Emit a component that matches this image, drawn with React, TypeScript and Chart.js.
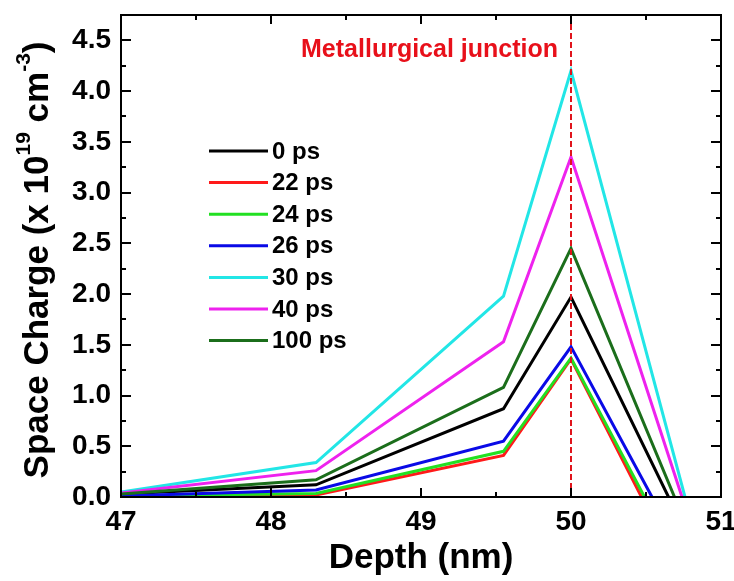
import React, { useEffect, useRef } from 'react';
import { Chart, registerables } from 'chart.js';

Chart.register(...registerables);

const FONT = "'Liberation Sans', Arial, Helvetica, sans-serif";

// ---- data ----
const seriesLabels = ['0 ps', '22 ps', '24 ps', '26 ps', '30 ps', '40 ps', '100 ps'];
const seriesColors = ['#000000', '#ff1a1a', '#22e022', '#0a0ae6', '#22e6e6', '#ee22ee', '#1b6e1b'];
const depthNm = [47, 48.3, 49.55, 50];
// depth where each curve falls back to zero
const zeroDepth = [50.65, 50.47, 50.49, 50.54, 50.76, 50.74, 50.69];
const charge0ps = [0.03, 0.12, 0.87, 1.97];
const charge22ps = [0.01, 0.02, 0.41, 1.36];
const charge24ps = [0.01, 0.035, 0.45, 1.37];
const charge26ps = [0.01, 0.07, 0.55, 1.48];
const charge30ps = [0.05, 0.34, 1.98, 4.2];
const charge40ps = [0.04, 0.26, 1.53, 3.35];
const charge100ps = [0.03, 0.17, 1.08, 2.45];
const seriesValues = [charge0ps, charge22ps, charge24ps, charge26ps, charge30ps, charge40ps, charge100ps];

const xMin = 47;
const xMax = 51;
const yMin = 0;
const yMax = 4.75;
const xTickValues = [47, 48, 49, 50, 51];
const yTickValues = [0, 0.5, 1, 1.5, 2, 2.5, 3, 3.5, 4, 4.5];
const junctionDepth = 50;
const junctionLabel = 'Metallurgical junction';
const xTitle = 'Depth (nm)';

const overlayPlugin = {
  id: 'overlay',
  afterDatasetsDraw(chart: any) {
    const { ctx, chartArea: a, scales } = chart;
    const x = scales.x;
    const y = scales.y;
    ctx.save();

    // junction dashed line
    const jx = x.getPixelForValue(junctionDepth);
    ctx.strokeStyle = '#e0141c';
    ctx.lineWidth = 2;
    ctx.setLineDash([6, 3]);
    ctx.beginPath();
    ctx.moveTo(jx, a.top);
    ctx.lineTo(jx, a.bottom);
    ctx.stroke();
    ctx.setLineDash([]);

    // frame
    ctx.strokeStyle = '#000';
    ctx.lineWidth = 2;
    ctx.strokeRect(a.left, a.top, a.right - a.left, a.bottom - a.top);

    // x ticks (inward, top & bottom)
    for (let i = 0; i <= 8; i++) {
      const v = xMin + i * 0.5;
      const p = Math.round(x.getPixelForValue(v));
      const L = i % 2 === 0 ? 9 : 5;
      ctx.beginPath();
      ctx.moveTo(p, a.bottom);
      ctx.lineTo(p, a.bottom - L);
      ctx.moveTo(p, a.top);
      ctx.lineTo(p, a.top + L);
      ctx.stroke();
    }
    // y ticks (inward, left & right)
    for (let i = 0; i <= 19; i++) {
      const v = yMin + i * 0.25;
      if (v > yMax + 1e-6) break;
      const p = Math.round(y.getPixelForValue(v));
      const L = i % 2 === 0 ? 10 : 5;
      ctx.beginPath();
      ctx.moveTo(a.left, p);
      ctx.lineTo(a.left + L, p);
      ctx.moveTo(a.right, p);
      ctx.lineTo(a.right - L, p);
      ctx.stroke();
    }

    // junction label
    ctx.fillStyle = '#e8101a';
    ctx.font = `bold 25px ${FONT}`;
    ctx.textAlign = 'right';
    ctx.textBaseline = 'middle';
    ctx.fillText(junctionLabel, jx - 13, a.top + 35);

    // legend
    const lx0 = 209;
    const lx1 = 268;
    const ly0 = 151;
    const dy = 31.6;
    ctx.font = `bold 24px ${FONT}`;
    ctx.textAlign = 'left';
    ctx.textBaseline = 'middle';
    seriesLabels.forEach((lab, i) => {
      const yy = ly0 + i * dy;
      ctx.strokeStyle = seriesColors[i];
      ctx.lineWidth = 3;
      ctx.beginPath();
      ctx.moveTo(lx0, yy);
      ctx.lineTo(lx1, yy);
      ctx.stroke();
      ctx.fillStyle = '#000';
      ctx.fillText(lab, lx1 + 4, yy + 1);
    });

    // y axis title with superscripts
    const big = `bold 35px ${FONT}`;
    const small = `bold 21px ${FONT}`;
    const parts: [string, boolean][] = [
      ['Space Charge (x 10', false],
      ['19', true],
      [' cm', false],
      ['-3', true],
      [')', false],
    ];
    let total = 0;
    const widths = parts.map(([t, sup]) => {
      ctx.font = sup ? small : big;
      const w = ctx.measureText(t).width;
      total += w;
      return w;
    });
    ctx.translate(38, (a.top + a.bottom) / 2 + 4);
    ctx.rotate(-Math.PI / 2);
    ctx.fillStyle = '#000';
    ctx.textAlign = 'left';
    ctx.textBaseline = 'middle';
    let cx = -total / 2;
    parts.forEach(([t, sup], i) => {
      ctx.font = sup ? small : big;
      ctx.fillText(t, cx, sup ? -14 : 0);
      cx += widths[i];
    });

    ctx.restore();
  },
};

export default function App() {
  const ref = useRef<HTMLCanvasElement | null>(null);

  useEffect(() => {
    if (!ref.current) return;
    const datasets = seriesLabels.map((lab, i) => ({
      label: lab,
      data: [
        ...depthNm.map((d, k) => ({ x: d, y: seriesValues[i][k] })),
        { x: zeroDepth[i], y: 0 },
      ],
      borderColor: seriesColors[i],
      backgroundColor: seriesColors[i],
      borderWidth: 3,
      pointRadius: 0,
      tension: 0,
      fill: false,
      order: seriesLabels.length - i,
    }));

    const chart = new Chart(ref.current, {
      type: 'line',
      data: { datasets },
      options: {
        responsive: false,
        animation: false,
        maintainAspectRatio: false,
        layout: { padding: { left: 0, top: 15, right: 13, bottom: 0 } },
        plugins: {
          legend: { display: false },
          tooltip: { enabled: false },
        },
        scales: {
          x: {
            type: 'linear',
            min: xMin,
            max: xMax,
            grid: { display: false, drawTicks: false },
            border: { display: false },
            afterBuildTicks: (s: any) => {
              s.ticks = xTickValues.map((v) => ({ value: v }));
            },
            ticks: {
              color: '#000',
              padding: 8,
              maxRotation: 0,
              autoSkip: false,
              font: { family: FONT, size: 28, weight: 'bold' },
              callback: (v: any) => String(v),
            },
            title: {
              display: true,
              text: xTitle,
              color: '#000',
              font: { family: FONT, size: 35, weight: 'bold' },
              padding: { top: 0, bottom: 2 },
            },
            afterFit: (s: any) => {
              s.height = 84;
              s.paddingLeft = 0;
              s.paddingRight = 0;
            },
          },
          y: {
            type: 'linear',
            min: yMin,
            max: yMax,
            grid: { display: false, drawTicks: false },
            border: { display: false },
            afterBuildTicks: (s: any) => {
              s.ticks = yTickValues.map((v) => ({ value: v }));
            },
            ticks: {
              color: '#000',
              padding: 10,
              autoSkip: false,
              font: { family: FONT, size: 28, weight: 'bold' },
              callback: (v: any) => Number(v).toFixed(1),
            },
            afterFit: (s: any) => {
              s.width = 121;
              s.paddingTop = 0;
              s.paddingBottom = 0;
            },
          },
        },
      },
      plugins: [overlayPlugin],
    } as any);

    return () => chart.destroy();
  }, []);

  return (
    <div style={{ position: 'absolute', left: 0, top: 0, width: 734, height: 581, background: '#fff' }}>
      <canvas ref={ref} width={734} height={581} style={{ display: 'block' }} />
    </div>
  );
}
